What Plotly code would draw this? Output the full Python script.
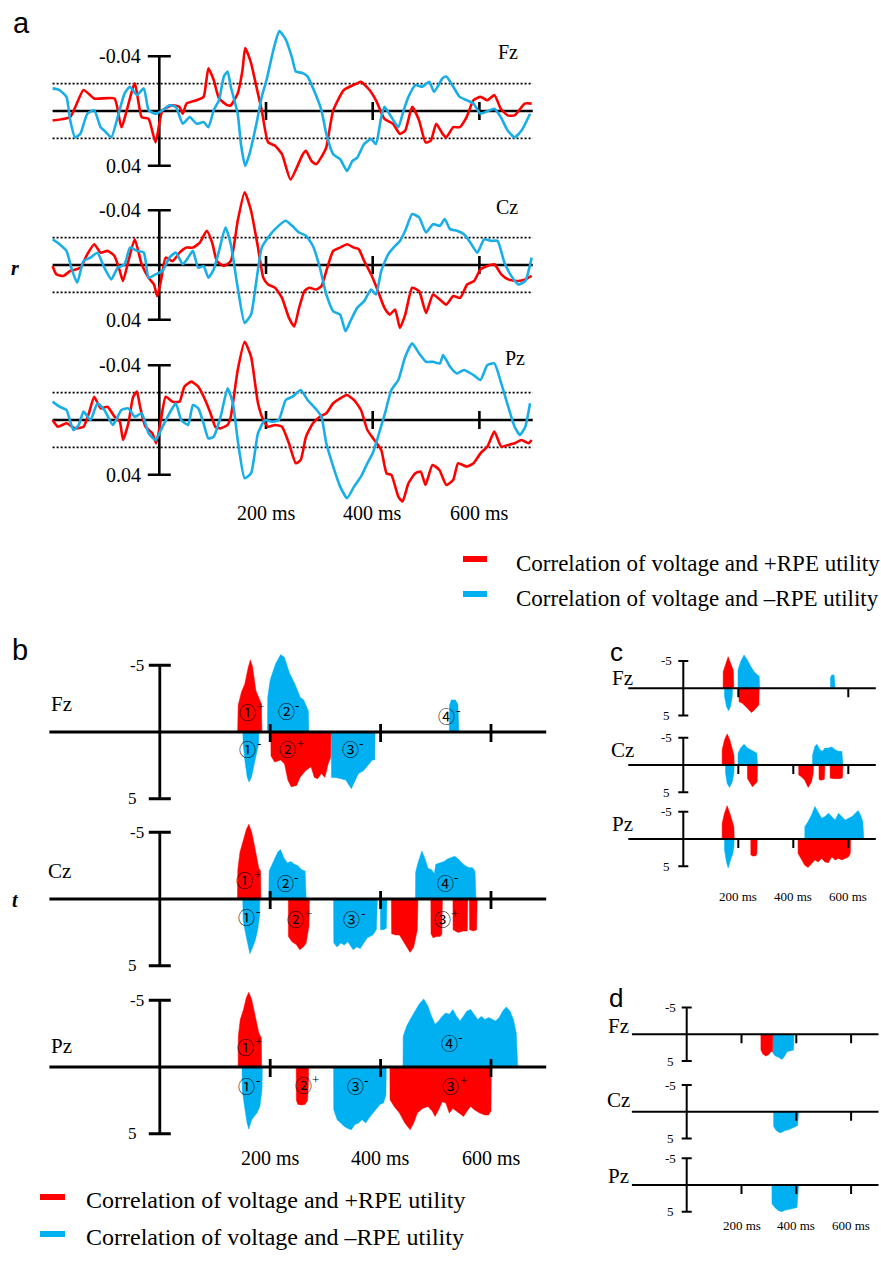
import plotly.graph_objects as go

W, H = 881, 1275
RED = "#ff0000"
BLUE_LINE = "#1aaee6"
BLUE_FILL = "#00b0f0"
SERIF = "Liberation Serif, Times New Roman, serif"
SANS = "Liberation Sans, Arial, sans-serif"
CIRC = "Noto Sans CJK SC, DejaVu Sans, sans-serif"

CHANNELS = ["Fz", "Cz", "Pz"]
TIME_TICKS = [200, 400, 600]
TIME_TICK_LABELS = ["200 ms", "400 ms", "600 ms"]
T_START, T_END = -200, 700
R_LIMIT = 0.04
R_THRESHOLD = 0.02
T_LIMIT = 5
LEGEND_TEXT = ["Correlation of voltage and +RPE utility", "Correlation of voltage and \u2013RPE utility"]

# ---------------- panel a : correlation r (time ms, r) ----------------
A_FZ_RED = [(-200,0.0069),(-167,0.0044),(-142,-0.0153),(-122,-0.0091),(-84,-0.0091),(-71,0.0118),(-46,-0.0202),(-33,0.0044),(-20,0.0057),(-7,0.0229),(6,-0.0005),(25,-0.0042),(38,-0.003),(44,0.002),(51,-0.0054),(70,-0.0079),(83,-0.0103),(92,-0.0312),(102,-0.0226),(112,-0.0091),(128,-0.0042),(134,-0.0042),(147,-0.0128),(156,-0.030),(161,-0.046),(172,-0.035),(182,-0.0177),(192,-0.0005),(204,0.0229),(217,0.0253),(230,0.0315),(246,0.050),(269,0.0315),(275,0.029),(285,0.0364),(294,0.0389),(307,0.0315),(313,0.0266),(326,-0.0005),(346,-0.0153),(371,-0.0202),(378,-0.0214),(394,-0.0153),(406,-0.0079),(422,0.0057),(438,0.0093),(451,0.0167),(461,0.0143),(474,-0.003),(487,0.0069),(499,0.0229),(509,0.0216),(519,0.0093),(531,0.0167),(538,0.0192),(551,0.0118),(563,0.0118),(576,0.0044),(589,-0.0079),(602,-0.0103),(615,-0.0079),(628,-0.0116),(640,-0.0017),(653,0.0032),(666,0.0032),(685,-0.0054),(698,-0.0054)]
A_FZ_BLUE = [(-200,-0.0165),(-187,-0.0153),(-174,-0.0103),(-167,0.0069),(-158,0.0192),(-148,0.0167),(-135,0.002),(-122,-0.0005),(-110,0.0118),(-103,0.0143),(-90,0.0192),(-78,0.0044),(-65,-0.0128),(-55,-0.0177),(-42,-0.0116),(-29,-0.0165),(-20,-0.0005),(-7,0.002),(6,-0.0005),(19,-0.0042),(31,-0.003),(44,0.0093),(57,0.0044),(70,0.0093),(83,0.0081),(92,0.0118),(102,-0.0005),(112,-0.0079),(121,-0.0251),(128,-0.0288),(134,-0.0177),(147,0.002),(153,0.0241),(161,0.0401),(169,0.0315),(182,0.0093),(192,-0.0103),(201,-0.0226),(214,-0.0448),(225,-0.0583),(237,-0.0522),(249,-0.0386),(256,-0.0288),(269,-0.0276),(278,-0.0251),(291,-0.014),(304,-0.0005),(313,0.0167),(326,0.0315),(339,0.0352),(352,0.0438),(362,0.0364),(371,0.034),(384,0.0241),(397,0.0204),(406,0.0241),(416,0.0044),(422,-0.003),(435,0.0044),(448,0.0118),(458,-0.0005),(467,-0.0103),(480,-0.0189),(493,-0.0177),(506,-0.0214),(515,-0.014),(531,-0.0239),(538,-0.0251),(551,-0.0177),(563,-0.0103),(576,-0.0079),(589,-0.0054),(602,0.002),(628,-0.0017),(640,0.0044),(653,0.0143),(666,0.0192),(679,0.0143),(695,0.002)]
A_CZ_RED = [(-200,0.0007),(-193,0.0068),(-180,0.008),(-167,0.0044),(-148,0.002),(-135,-0.0078),(-122,-0.0152),(-110,-0.009),(-97,-0.0103),(-84,-0.0066),(-74,0.0044),(-68,0.0117),(-58,-0.0029),(-46,-0.0188),(-33,-0.0005),(-20,0.0093),(-10,0.0142),(-4,0.0227),(3,0.0117),(12,-0.0054),(25,-0.0029),(38,-0.009),(51,-0.0127),(63,-0.0127),(76,-0.0164),(89,-0.025),(99,-0.0164),(108,-0.0029),(121,0.0007),(134,-0.0029),(147,-0.0323),(160,-0.0531),(172,-0.0396),(185,-0.0127),(195,0.0093),(204,0.0142),(217,0.0166),(230,0.024),(243,0.0386),(253,0.0448),(262,0.0313),(272,0.0191),(281,0.0166),(294,0.0179),(304,0.0154),(313,0.0044),(326,-0.0103),(339,-0.0127),(352,-0.0152),(365,-0.0127),(374,-0.0115),(384,-0.0029),(397,0.0068),(410,0.0191),(422,0.0313),(432,0.0362),(442,0.0325),(451,0.046),(461,0.0362),(474,0.0166),(487,0.0191),(500,0.035),(513,0.0215),(526,0.0252),(538,0.0289),(551,0.0227),(564,0.024),(577,0.0142),(590,0.0117),(602,0.0032),(615,0.0007),(628,-0.0005),(641,0.0068),(654,0.0105),(673,0.0117),(686,0.0105),(698,0.008)]
A_CZ_BLUE = [(-200,-0.0188),(-187,-0.0152),(-174,-0.0103),(-164,0.0032),(-154,0.013),(-142,-0.0029),(-129,-0.0054),(-116,-0.009),(-103,0.002),(-90,0.0105),(-78,0.002),(-65,-0.0005),(-55,-0.0127),(-42,-0.0103),(-29,-0.009),(-20,0.0093),(-7,0.0068),(6,0.0044),(19,-0.0054),(31,-0.009),(44,-0.0005),(54,-0.0054),(63,-0.0103),(73,0.002),(83,0.0007),(92,0.0093),(102,0.0032),(112,-0.0103),(124,-0.0274),(134,-0.0152),(147,0.0166),(160,0.0423),(172,0.0362),(181,0.0142),(192,-0.0127),(204,-0.0201),(217,-0.0262),(237,-0.0323),(249,-0.0286),(262,-0.0237),(275,-0.0213),(288,-0.0139),(301,0.002),(313,0.0215),(326,0.0338),(339,0.0362),(349,0.0484),(358,0.0411),(371,0.0313),(384,0.0264),(397,0.0179),(406,0.0215),(416,0.0044),(429,-0.0078),(442,-0.0139),(451,-0.0176),(461,-0.025),(474,-0.0372),(487,-0.0347),(500,-0.0237),(513,-0.0298),(526,-0.0286),(535,-0.0335),(545,-0.0262),(558,-0.025),(571,-0.0225),(583,-0.0164),(596,-0.009),(609,-0.0188),(622,-0.0176),(634,-0.0176),(647,-0.0017),(660,0.0081),(673,0.0142),(686,0.0117),(698,-0.0054)]
A_PZ_RED = [(-200,0.0),(-190,0.0049),(-174,0.0024),(-158,0.0061),(-142,0.0049),(-132,-0.0049),(-122,-0.017),(-110,-0.0085),(-97,-0.0097),(-84,-0.0024),(-74,0.0012),(-68,0.0146),(-58,0.0024),(-49,-0.017),(-42,-0.0207),(-36,-0.0097),(-26,0.0049),(-13,0.0097),(-6,0.017),(3,0.0),(12,-0.017),(25,-0.0134),(38,-0.0134),(47,-0.0243),(60,-0.028),(73,-0.0243),(86,-0.0146),(96,-0.0049),(105,0.0049),(115,0.0061),(128,0.0036),(134,-0.0024),(147,-0.0365),(160,-0.0571),(172,-0.0462),(185,-0.0122),(195,0.0),(204,0.0049),(217,0.0036),(230,0.0049),(243,0.017),(256,0.0316),(265,0.0292),(275,0.0122),(288,0.0024),(301,-0.0024),(313,-0.0049),(326,-0.0122),(339,-0.0158),(352,-0.0182),(365,-0.0146),(378,-0.0073),(390,0.0073),(403,0.0146),(416,0.0219),(426,0.0389),(435,0.0401),(448,0.0559),(456,0.0595),(467,0.0462),(480,0.0389),(490,0.0377),(499,0.0474),(512,0.0328),(525,0.0365),(538,0.0474),(551,0.0437),(560,0.0316),(576,0.034),(589,0.0316),(602,0.0243),(615,0.0194),(628,0.0085),(641,0.0194),(654,0.0182),(666,0.017),(679,0.0146),(692,0.017),(698,0.0146)]
A_PZ_BLUE = [(-200,-0.0134),(-187,-0.0097),(-174,-0.0073),(-161,0.0073),(-151,0.0036),(-142,-0.0061),(-129,0.0),(-116,-0.0122),(-103,-0.0073),(-87,0.0036),(-71,-0.0073),(-58,-0.0085),(-46,-0.0024),(-33,-0.0049),(-20,0.0097),(-7,0.0146),(6,0.0049),(19,-0.0049),(31,-0.0122),(41,0.0),(54,0.0036),(63,-0.0109),(73,-0.0085),(83,0.0024),(92,0.0134),(102,0.0122),(115,-0.0024),(128,-0.0231),(138,-0.0122),(147,0.0146),(160,0.0425),(172,0.0389),(185,0.0097),(198,0.0),(211,0.0012),(224,0.0),(237,-0.0146),(250,-0.017),(265,-0.0219),(278,-0.0146),(295,-0.0073),(304,-0.0024),(313,0.017),(326,0.034),(339,0.0486),(352,0.0571),(365,0.0486),(378,0.0413),(390,0.0316),(400,0.0243),(410,0.0122),(423,-0.0049),(435,-0.0219),(448,-0.0292),(461,-0.0462),(474,-0.0559),(487,-0.0486),(500,-0.0425),(513,-0.0425),(526,-0.0413),(532,-0.0474),(545,-0.0389),(558,-0.034),(571,-0.0365),(589,-0.0328),(602,-0.0292),(615,-0.0401),(628,-0.0413),(641,-0.0267),(654,-0.0097),(666,0.0049),(676,0.0109),(686,0.0049),(695,-0.0122)]

# ---------------- panel b : significant t values (time ms, t) ----------------
B_FZ_RED = [(141,0),(142,-2.0),(148,-3.0),(154,-3.6),(160,-4.8),(164,-5.4),(168,-4.9),(174,-3.1),(181,-2.4),(184,-2.1),(185,0),
            (201,0),(201.5,1.8),(208,2.25),(219,2.1),(226,2.4),(232,3.6),(238,4.1),(248,4.0),(254,3.4),(264,2.9),(274,2.6),(280,3.4),(286,3.5),(293,3.1),(299,3.4),(305,2.4),(309.5,1.9),(310,0)]
B_FZ_BLUE = [(150.5,0),(151,0.9),(154,2.1),(158.5,3.4),(161.7,3.75),(166,3.4),(171,2.4),(175.7,1.4),(179,0.9),(179.5,0),
             (195,0),(195.5,-2.6),(200,-3.9),(209.6,-5.1),(219,-5.8),(225.6,-5.6),(235,-4.4),(244.7,-3.6),(254.3,-2.6),(260.7,-2.4),(265,-2.0),(269,-1.6),(270,0),
             (310.5,0),(311,3.4),(318,3.4),(328,3.5),(337,3.6),(347,4.25),(353,3.75),(360,3.1),(369,2.9),(379,2.4),(385,2.1),(389.5,2.1),(390,0),
             (524.5,0),(525,-2.0),(528,-2.4),(535.5,-2.4),(540,-2.1),(542,0)]
B_CZ_RED = [(140.6,0),(141.3,-2.2),(145.2,-3.5),(150.3,-4.2),(156.8,-5.2),(161.3,-5.6),(166.5,-5.0),(172.9,-3.7),(179.4,-2.3),(182.6,-2.1),(183.2,0),
            (232.9,0),(233,2.8),(239.4,3.2),(247.1,3.4),(253.5,3.8),(260,3.6),(265.2,3.3),(270.3,2.0),(271,0),
            (419.4,0),(420,2.6),(427.7,2.7),(434.2,2.7),(440.6,3.1),(447.1,3.6),(453.5,4.0),(460,3.6),(466.5,2.3),(467.7,0),
            (491,0),(491.3,2.6),(495,2.9),(502,2.8),(508,2.8),(511,2.6),(512,0),
            (531,0),(531.3,2.3),(540,2.5),(550,2.4),(557,2.4),(558,0),
            (561,0),(561.3,2.3),(568,2.4),(574,2.3),(575,0)]
B_CZ_BLUE = [(150.3,0),(151,1.6),(155.5,2.6),(160,3.6),(163.2,4.1),(168.4,3.6),(172.9,3.1),(177.4,2.3),(180.6,1.3),(181.3,0),
             (197.4,0),(198.1,-2.1),(205.2,-2.7),(213.5,-3.5),(218.7,-3.7),(224.5,-3.1),(231,-2.7),(237.4,-2.8),(243.9,-2.6),(250.3,-2.5),(256.8,-2.2),(263.2,-2.1),(265.2,0),
             (314.8,0),(315.2,3.3),(321.3,3.6),(327.7,3.3),(334.2,3.45),(340.6,3.2),(350.3,3.8),(356.8,3.6),(363.2,3.7),(369.7,3.3),(376.1,2.9),(385.8,2.7),(392.3,2.3),(394.2,0),
             (399.4,0),(399.8,2.3),(405.2,2.3),(410.3,2.2),(411.6,0),
             (463.2,0),(463.5,-2.0),(467.7,-2.7),(474.8,-3.6),(480.6,-3.0),(485.8,-2.3),(492.3,-2.2),(497.4,-1.9),(500,-2.6),(508.4,-2.7),(514.8,-2.8),(521.3,-3.0),(527.7,-3.1),(534.2,-3.2),(540.6,-3.0),(547.1,-2.7),(553.5,-2.5),(560,-2.35),(566.5,-2.35),(571,-2.1),(572.9,0)]
B_PZ_RED = [(141.9,0),(142.2,-2.3),(145.8,-3.55),(151.6,-4.3),(156.8,-5.2),(161.3,-5.6),(166.5,-5.05),(172.9,-3.8),(179.4,-2.55),(183.9,-2.2),(184.5,0),
            (247.1,0),(247.4,2.5),(250.3,2.8),(256.8,2.85),(263.2,2.8),(267.7,2.5),(269,1.5),(269.7,0),
            (416.8,0),(417.1,2.45),(424.5,2.95),(434.2,3.45),(443.9,4.2),(453.5,4.7),(460,4.2),(466.5,3.45),(476.1,3.1),(485.8,2.95),(493.5,3.3),(498.7,3.7),(505.2,3.2),(511.6,2.6),(518.1,2.7),(524.5,3.45),(531,3.1),(537.4,3.3),(543.9,3.45),(550.3,3.7),(556.8,3.3),(563.2,2.95),(569.7,3.2),(579.4,3.45),(589,3.6),(595.5,3.6),(600,3.3),(600.6,0)]
B_PZ_BLUE = [(149,0),(149.3,1.7),(153.5,2.95),(158.1,4.2),(161.3,4.65),(166.5,3.95),(171,3.7),(176.1,3.45),(181.3,2.95),(185.2,1.7),(185.8,0),
             (314.8,0),(315.1,3.2),(321.3,3.95),(327.7,4.2),(334.2,4.45),(340.6,4.6),(347.1,4.7),(353.5,4.3),(360,4.2),(366.5,3.95),(372.9,4.2),(379.4,3.8),(385.8,3.45),(392.3,3.1),(398.7,2.8),(405.2,2.7),(409.7,2.1),(410.3,0),
             (440.6,0),(440.9,-2.3),(447.1,-3.05),(453.5,-3.55),(460,-4.05),(469.7,-4.7),(478.1,-5.1),(485.8,-4.55),(492.3,-3.8),(498.7,-3.2),(505.2,-3.45),(511.6,-3.8),(518.1,-4.05),(524.5,-3.95),(531,-4.3),(537.4,-3.8),(543.9,-3.45),(550.3,-3.8),(556.8,-4.2),(563.2,-4.3),(569.7,-3.95),(576.1,-3.55),(582.6,-3.8),(589,-3.55),(595.5,-3.7),(601.9,-3.55),(608.4,-3.45),(614.8,-3.7),(621.3,-4.2),(627.7,-4.5),(634.2,-4.2),(640.6,-3.55),(645.8,-2.55),(648.4,0)]

# circled component labels (time ms, t, digit, sign)
B_FZ_LABELS = [(168,-1.5,"\u2460","+"),(238,-1.6,"\u2461","-"),(168,1.25,"\u2460","-"),(241,1.25,"\u2461","+"),(354,1.25,"\u2462","-"),(529,-1.25,"\u2463","-")]
B_CZ_LABELS = [(163,-1.46,"\u2460","+"),(236,-1.2,"\u2461","-"),(167,1.31,"\u2460","-"),(255,1.44,"\u2461","+"),(357,1.44,"\u2462","-"),(526,-1.26,"\u2463","-"),(521,1.44,"\u2462","+")]
B_PZ_LABELS = [(165,-1.55,"\u2460","+"),(167,1.4,"\u2460","-"),(269,1.33,"\u2461","+"),(363,1.4,"\u2462","-"),(533,-1.85,"\u2463","-"),(536,1.4,"\u2462","+")]

# ---------------- panel c ----------------
C_FZ_RED = [(144.8,0),(145,-3.05),(153.4,-4.3),(163.2,-5.8),(174.2,-4.3),(181.6,-3.35),(184,0),
            (202.5,0),(202.7,2.45),(214.7,2.75),(227,3.35),(239.3,4.1),(247.9,4.45),(257.7,4.0),(267.5,3.35),(274.8,3.05),(276.1,0)]
C_FZ_BLUE = [(149.7,0),(150,1.5),(157,3.35),(164.4,4.1),(171.8,3.35),(177.9,1.5),(179.1,0),
             (198.8,0),(199,-3.35),(208.6,-4.9),(220.9,-6.1),(233.1,-5.2),(245.4,-4.0),(257.7,-3.05),(269.9,-2.45),(276.1,-2.2),(277.3,0),
             (535,0),(535.2,-2.0),(539.9,-2.45),(548.5,-2.45),(552.1,0)]
C_CZ_RED = [(141.1,0),(141.3,-2.8),(149.7,-4.6),(159.5,-5.7),(169.3,-4.6),(177.9,-2.8),(184,-1.85),(185.3,0),
            (233.1,0),(233.3,2.45),(243,3.4),(251.5,4.0),(261.3,3.5),(268.7,3.1),(269.9,0),
            (419.6,0),(419.8,1.85),(429.4,2.15),(441.7,2.8),(454,4.1),(466.3,3.1),(472.4,1.55),(473.6,0),
            (493.3,0),(493.5,2.6),(500.6,2.8),(512.9,2.6),(515.3,0),
            (533.7,0),(533.9,2.4),(546,2.5),(558.3,2.45),(570.6,2.5),(579.1,2.3),(580.4,0)]
C_CZ_BLUE = [(153.4,0),(153.6,1.5),(159.5,3.4),(168.1,4.1),(177.9,3.1),(184,1.5),(185,0),
             (198.8,0),(199,-2.15),(208.6,-3.1),(220.9,-3.8),(233.1,-3.1),(245.4,-2.8),(257.7,-2.5),(267.5,-2.15),(269.9,0),
             (469.9,0),(470.1,-1.85),(478.5,-3.4),(485.9,-3.8),(496.9,-2.8),(505.5,-2.5),(515.3,-3.1),(527.6,-3.1),(539.9,-3.3),(552.1,-2.8),(564.4,-2.5),(576.7,-2.5),(580.4,0)]
C_PZ_RED = [(141.1,0),(141.3,-2.9),(149.7,-4.7),(159.5,-6.1),(169.3,-4.7),(177.9,-3.2),(184,-2.25),(185.3,0),
            (245.4,0),(245.6,2.9),(251.5,3.1),(262.6,3.1),(267.5,2.8),(268.7,0),
            (417.2,0),(417.4,2.65),(429.4,3.85),(441.7,4.8),(454,5.2),(466.3,4.5),(478.5,3.85),(490.8,4.2),(503.1,3.55),(515.3,4.2),(527.6,4.35),(539.9,3.25),(552.1,3.85),(564.4,3.55),(576.7,3.85),(589,3.55),(601.2,3.25),(607.4,2.65),(608.6,0)]
C_PZ_BLUE = [(149.7,0),(149.9,2.0),(157,4.2),(163.2,5.3),(171.8,3.85),(180.4,2.65),(184,1.4),(185,0),
             (441.7,0),(441.9,-2.25),(454,-3.2),(466.3,-4.4),(478.5,-5.95),(490.8,-5.0),(503.1,-3.8),(515.3,-4.1),(527.6,-4.7),(539.9,-4.1),(552.1,-3.5),(564.4,-4.7),(576.7,-4.1),(589,-3.5),(601.2,-3.8),(613.5,-4.1),(625.8,-4.7),(635.6,-5.2),(644.2,-4.4),(652.8,-3.2),(656.4,0)]

# ---------------- panel d ----------------
D_FZ_RED = [(270.7,0),(270.9,2.95),(278,3.7),(287.8,4.05),(298.8,3.85),(307.3,3.25),(313.4,3.25),(314.4,0)]
D_FZ_BLUE = [(314.6,0),(314.8,3.55),(323.2,4.05),(335.4,4.3),(347.6,4.7),(356.1,4.2),(365.9,3.25),(378,3.1),(390.2,2.95),(391.5,0)]
D_CZ_RED = []
D_CZ_BLUE = [(317.1,0),(317.3,2.75),(326.8,3.5),(339,3.95),(347.6,3.85),(359.8,3.5),(372,3.4),(384.1,3.05),(396.3,2.75),(404.9,2.6),(408.5,0)]
D_PZ_RED = []
D_PZ_BLUE = [(311,0),(311.2,3.5),(323.2,4.3),(335.4,4.8),(347.6,5.0),(359.8,4.7),(372,4.6),(390.2,4.4),(402.4,4.2),(408.5,0)]

C_TICKS = {"Fz": [200, 600], "Cz": [200, 400, 600], "Pz": [200, 400, 600]}
D_TICKS = {"Fz": [200, 400, 600], "Cz": [400, 600], "Pz": [200, 400, 600]}

# ---------------- layout geometry (pixels) ----------------
GEO = {
    "a": dict(x0=159.3, sx=0.5335, y0=[111, 265, 420], sy=1370.0, tr=(-240, 740), vr=(-0.07, 0.07)),
    "b": dict(x0=159.8, sx=0.552, y0=[732, 899, 1067], sy=13.35, tr=(-240, 740), vr=(-7.0, 7.0)),
    "c": dict(x0=683.3, sx=0.275, y0=[688.3, 765, 839], sy=5.46, tr=(-230, 705), vr=(-7.5, 7.5)),
    "d": dict(x0=686.7, sx=0.274, y0=[1034.3, 1111.7, 1185], sy=5.34, tr=(-230, 705), vr=(-7.5, 7.5)),
}

fig = go.Figure()
layout = {}
shapes = []
annotations = []
counter = [0]


def clamp(v):
    return max(0.0, min(1.0, v))


def make_axes(g, row):
    counter[0] += 1
    n = "" if counter[0] == 1 else str(counter[0])
    xd = [clamp((g["x0"] + g["sx"] * g["tr"][0]) / W), clamp((g["x0"] + g["sx"] * g["tr"][1]) / W)]
    ytop = g["y0"][row] + g["sy"] * g["vr"][0]
    ybot = g["y0"][row] + g["sy"] * g["vr"][1]
    yd = [clamp(1 - ybot / H), clamp(1 - ytop / H)]
    layout["xaxis" + n] = dict(domain=xd, range=list(g["tr"]), visible=False, fixedrange=True, anchor="y" + n)
    layout["yaxis" + n] = dict(domain=yd, range=[g["vr"][1], g["vr"][0]], visible=False, fixedrange=True, anchor="x" + n)
    return "x" + n, "y" + n


def seg(xr, yr, x0, y0, x1, y1, width, dash=None, layer="above"):
    ln = dict(color="black", width=width)
    if dash:
        ln["dash"] = dash
    shapes.append(dict(type="line", xref=xr, yref=yr, x0=x0, y0=y0, x1=x1, y1=y1, line=ln, layer=layer))


def text(x, y, s, size, xref="paper", yref="paper", family=SERIF, xanchor="center", xshift=0, yshift=0):
    annotations.append(dict(x=x, y=y, xref=xref, yref=yref, text=s, showarrow=False,
                            font=dict(family=family, size=size, color="black"),
                            xanchor=xanchor, yanchor="middle", xshift=xshift, yshift=yshift))


def px(xp):
    return xp / W


def py(yp):
    return 1 - yp / H


def unzip(pairs):
    return [p[0] for p in pairs], [p[1] for p in pairs]


# ---------- panel a ----------
A_DATA = {"Fz": (A_FZ_RED, A_FZ_BLUE), "Cz": (A_CZ_RED, A_CZ_BLUE), "Pz": (A_PZ_RED, A_PZ_BLUE)}
A_LABEL_POS = {"Fz": (508, 52), "Cz": (507, 207), "Pz": (515, 358)}
g = GEO["a"]
for row, ch in enumerate(CHANNELS):
    xr, yr = make_axes(g, row)
    cap = 11.5 / g["sx"]
    tk = 9 / g["sy"]
    for thr in (-R_THRESHOLD, R_THRESHOLD):
        seg(xr, yr, T_START, thr, T_END, thr, 1.6, dash="2px,2px", layer="below")
    seg(xr, yr, T_START, 0, T_END, 0, 2.6, layer="below")
    seg(xr, yr, 0, -R_LIMIT, 0, R_LIMIT, 2.6, layer="below")
    for lim in (-R_LIMIT, R_LIMIT):
        seg(xr, yr, -cap, lim, cap, lim, 2.6, layer="below")
    for t in TIME_TICKS:
        seg(xr, yr, t, -tk, t, tk, 2.6, layer="below")
    red, blue = A_DATA[ch]
    for pairs, col in ((red, RED), (blue, BLUE_LINE)):
        xs, ys = unzip(pairs)
        fig.add_trace(go.Scatter(x=xs, y=ys, xaxis=xr, yaxis=yr, mode="lines", showlegend=False,
                                 line=dict(color=col, width=2.6, shape="spline", smoothing=0.5), hoverinfo="skip"))
    text(0, -R_LIMIT, "-0.04", 20, xref=xr, yref=yr, xanchor="right", xshift=-16)
    text(0, R_LIMIT, "0.04", 20, xref=xr, yref=yr, xanchor="right", xshift=-16)
    lx, ly = A_LABEL_POS[ch]
    text(px(lx), py(ly), ch, 20)
    if row == 2:
        for t, lab in zip(TIME_TICKS, TIME_TICK_LABELS):
            text(t, py(513), lab, 20, xref=xr)

# ---------- filled t-value panels ----------
def t_panel(key, datasets, label_pos, tick_sets, lim_size, lim_shift, ch_size,
            line_w, cap_px, tick_down, tick_up, tick_label_y, tick_label_size, circ_labels=None):
    g = GEO[key]
    for row, ch in enumerate(CHANNELS):
        xr, yr = make_axes(g, row)
        red, blue = datasets[ch]
        for pairs, col in ((blue, BLUE_FILL), (red, RED)):
            if not pairs:
                continue
            xs, ys = unzip(pairs)
            fig.add_trace(go.Scatter(x=xs, y=ys, xaxis=xr, yaxis=yr, mode="lines", fill="tozeroy",
                                     fillcolor=col, line=dict(color=col, width=0.5), showlegend=False,
                                     hoverinfo="skip"))
        cap = cap_px / g["sx"]
        seg(xr, yr, T_START, 0, T_END, 0, line_w)
        seg(xr, yr, 0, -T_LIMIT, 0, T_LIMIT, line_w)
        for lim in (-T_LIMIT, T_LIMIT):
            seg(xr, yr, -cap, lim, cap, lim, line_w)
        for t in tick_sets[ch]:
            seg(xr, yr, t, -tick_up / g["sy"], t, tick_down / g["sy"], line_w)
        text(0, -T_LIMIT, "-5", lim_size, xref=xr, yref=yr, xanchor="right", xshift=lim_shift[0])
        text(0, T_LIMIT, "5", lim_size, xref=xr, yref=yr, xanchor="right", xshift=lim_shift[1])
        lx, ly = label_pos[ch]
        text(px(lx), py(ly), ch, ch_size)
        if circ_labels:
            for t, v, digit, sign in circ_labels[ch]:
                text(t, v, digit, 17, xref=xr, yref=yr, family=CIRC, xshift=-5)
                text(t, v, sign, 13, xref=xr, yref=yr, family=SERIF, xanchor="left", xshift=2, yshift=5)
        if row == 2:
            for t, lab in zip(TIME_TICKS, TIME_TICK_LABELS):
                text(t, py(tick_label_y), lab, tick_label_size, xref=xr)


B_DATA = {"Fz": (B_FZ_RED, B_FZ_BLUE), "Cz": (B_CZ_RED, B_CZ_BLUE), "Pz": (B_PZ_RED, B_PZ_BLUE)}
B_LABELS = {"Fz": B_FZ_LABELS, "Cz": B_CZ_LABELS, "Pz": B_PZ_LABELS}
B_TICKS = {ch: TIME_TICKS for ch in CHANNELS}
t_panel("b", B_DATA, {"Fz": (61, 704), "Cz": (59, 871), "Pz": (61, 1046)}, B_TICKS,
        17, (-14, -21), 21, 2.8, 11, 10, 8, 1158, 20, circ_labels=B_LABELS)

C_DATA = {"Fz": (C_FZ_RED, C_FZ_BLUE), "Cz": (C_CZ_RED, C_CZ_BLUE), "Pz": (C_PZ_RED, C_PZ_BLUE)}
t_panel("c", C_DATA, {"Fz": (622, 678), "Cz": (622, 750), "Pz": (622, 824)}, C_TICKS,
        13, (-9, -11), 21, 2.0, 5, 9, 0, 896, 13)

D_DATA = {"Fz": (D_FZ_RED, D_FZ_BLUE), "Cz": (D_CZ_RED, D_CZ_BLUE), "Pz": (D_PZ_RED, D_PZ_BLUE)}
t_panel("d", D_DATA, {"Fz": (618, 1026), "Cz": (618, 1100), "Pz": (618, 1176)}, D_TICKS,
        13, (-9, -11), 21, 2.0, 5, 9, 0, 1225, 13)

# ---------- axis titles, panel letters ----------
text(px(15), py(268), "<b><i>r</i></b>", 20)
text(px(15), py(900), "<b><i>t</i></b>", 20)
for letter, (lx, ly, sz) in {"a": (21, 23, 29), "b": (20, 650, 29), "c": (616, 652, 26), "d": (616, 998, 26)}.items():
    text(px(lx), py(ly), letter, sz, family=SANS)

# ---------- legends ----------
def legend_block(bar_x0, bar_x1, text_x, ys, size):
    for (yc, yt), col, s in zip(ys, (RED, BLUE_FILL), LEGEND_TEXT):
        shapes.append(dict(type="rect", xref="paper", yref="paper", x0=px(bar_x0), x1=px(bar_x1),
                           y0=py(yc - 3), y1=py(yc + 3), fillcolor=col, line=dict(width=0)))
        text(px(text_x), py(yt), s, size, xanchor="left")


legend_block(463, 487, 514, [(559, 563), (594, 598)], 23)
legend_block(40, 65, 84, [(1197, 1200), (1234, 1237)], 24)

fig.update_layout(width=W, height=H, margin=dict(l=0, r=0, t=0, b=0), paper_bgcolor="white",
                  plot_bgcolor="rgba(0,0,0,0)", showlegend=False, shapes=shapes, annotations=annotations,
                  **layout)
fig.write_html("out.html")
